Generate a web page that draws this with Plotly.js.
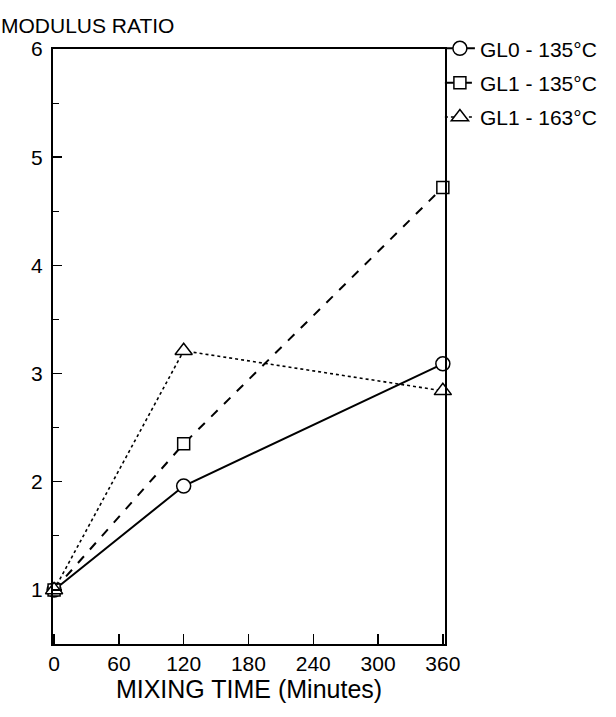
<!DOCTYPE html>
<html>
<head>
<meta charset="utf-8">
<script src="https://cdn.plot.ly/plotly-3.0.1.min.js"></script>
<style>html,body{margin:0;padding:0;background:#fff;}#chart{width:616px;height:717px;}</style>
</head>
<body>
<div id="chart"></div>
<script>
// Mixing time in minutes
var mixingTime = [0, 120, 360];
// Modulus ratio for each compound / temperature
var gl0_135 = [1.0, 1.96, 3.09];
var gl1_135 = [1.0, 2.35, 4.72];
var gl1_163 = [1.0, 3.21, 2.84];
var seriesNames = ['GL0 - 135°C', 'GL1 - 135°C', 'GL1 - 163°C'];
var xTicks = [0, 60, 120, 180, 240, 300, 360];
var yTicks = [1, 2, 3, 4, 5, 6];

var font = 'Liberation Sans, Arial, Helvetica, sans-serif';

function series(y, name, group, dash, width, symbol, size) {
  return {
    x: mixingTime, y: y, name: name, legendgroup: group, type: 'scatter', mode: 'lines+markers',
    line: {color: '#000', dash: dash, width: width},
    marker: {symbol: symbol, size: size, color: '#fff', line: {color: '#000', width: 1.5}},
    cliponaxis: false
  };
}

var traces = [
  series(gl0_135, seriesNames[0], 'a', 'solid', 2, 'circle', 14),
  series(gl1_135, seriesNames[1], 'b', 'dash', 2, 'square', 12),
  series(gl1_163, seriesNames[2], 'c', 'dot', 1.6, 'triangle-up', 15)
];

var layout = {
  width: 616, height: 717,
  margin: {l: 53, r: 171, t: 49, b: 73},
  paper_bgcolor: '#fff', plot_bgcolor: '#fff',
  font: {family: font, color: '#000', size: 20},
  showlegend: true,
  legend: {x: 0.987, xanchor: 'left', y: 1.035, yanchor: 'top', font: {size: 21, family: font},
           bgcolor: 'rgba(0,0,0,0)', itemwidth: 30, traceorder: 'grouped', tracegroupgap: 4},
  xaxis: {
    range: [-1, 362], tickvals: xTicks, ticktext: xTicks.map(String),
    ticks: 'inside', ticklen: 10, tickwidth: 1.5, tickcolor: '#000',
    showline: true, linecolor: '#000', linewidth: 2, mirror: true,
    showgrid: false, zeroline: false,
    tickfont: {size: 21},
    title: {text: 'MIXING TIME (Minutes)', font: {size: 25}, standoff: 6}
  },
  yaxis: {
    range: [0.5, 6], tickvals: yTicks, ticktext: yTicks.map(String),
    ticks: 'inside', ticklen: 9, tickwidth: 1.5, tickcolor: '#000',
    minor: {dtick: 0.5, ticks: 'inside', ticklen: 6, tickcolor: '#000', tickwidth: 1},
    showline: true, linecolor: '#000', linewidth: 2, mirror: true,
    showgrid: false, zeroline: false,
    tickfont: {size: 21}, ticklabelstandoff: 4
  },
  annotations: [{
    text: 'MODULUS RATIO', xref: 'paper', yref: 'paper', x: 0, y: 1,
    xanchor: 'left', yanchor: 'bottom', xshift: -54, yshift: 10,
    showarrow: false, font: {size: 21, family: font}
  }]
};

Plotly.newPlot('chart', traces, layout, {staticPlot: true});
</script>
</body>
</html>
